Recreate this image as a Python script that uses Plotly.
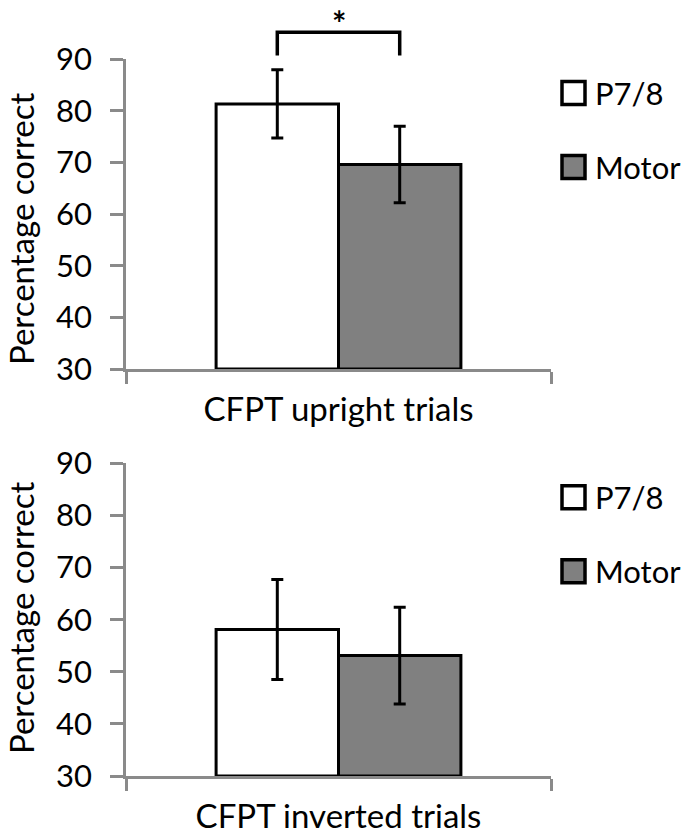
import plotly.graph_objects as go
from plotly.subplots import make_subplots

# ---- data ----
groups = ["P7/8", "Motor"]
panels = ["CFPT upright trials", "CFPT inverted trials"]
upright_means = [81.3, 69.6]
upright_err = [6.6, 7.4]
inverted_means = [58.1, 53.1]
inverted_err = [9.6, 9.3]
y_ticks = [30, 40, 50, 60, 70, 80, 90]
y_range = [30, 90]
sig_label = "*"

# ---- styles ----
FONT = "Lato"
fills = ["#ffffff", "#808080"]
AXIS = "#8a8a8a"
W = 690
H = 834
BAR_W = 0.288
offsets = [-BAR_W, 0.0]

fig = make_subplots(rows=2, cols=1)

x_dom = [126 / W, 551 / W]
y_doms = [[1 - 369 / H, 1 - 59 / H], [1 - 776 / H, 1 - 463.3 / H]]


def to_paper(v, dom):
    return dom[0] + (v - y_range[0]) / (y_range[1] - y_range[0]) * (dom[1] - dom[0])


data = [(upright_means, upright_err), (inverted_means, inverted_err)]
for r, (means, errs) in enumerate(data, start=1):
    for i, g in enumerate(groups):
        fig.add_trace(go.Bar(
            x=[0], y=[means[i] - y_range[0]], base=y_range[0],
            width=BAR_W, offset=offsets[i],
            marker=dict(color=fills[i], line=dict(color="black", width=3)),
            error_y=dict(type="data", array=[errs[i]], color="black", thickness=3, width=6),
            name=g, showlegend=False, hoverinfo="skip",
        ), row=r, col=1)

# significance bracket between the two upright bars (above the plot range)
centers = [o + BAR_W / 2 for o in offsets]
top_ext = max(m + e for m, e in zip(upright_means, upright_err))
b_low = to_paper(top_ext + 2.8, y_doms[0])
b_high = to_paper(top_ext + 7.3, y_doms[0])
fig.add_shape(type="path", xref="x", yref="paper",
              path=f"M {centers[0]},{b_low} L {centers[0]},{b_high} L {centers[1]},{b_high} L {centers[1]},{b_low}",
              line=dict(color="black", width=3.5))
fig.add_annotation(x=0, y=1, xref="x", yref="paper",
                   text="<b>" + sig_label + "</b>", showarrow=False, yanchor="top",
                   font=dict(family=FONT, size=34, color="black"))

for r in (1, 2):
    xa = "xaxis" if r == 1 else "xaxis2"
    ya = "yaxis" if r == 1 else "yaxis2"
    fig.update_layout(**{
        xa: dict(domain=x_dom, range=[-0.5, 0.5], showgrid=False, zeroline=False,
                 automargin=False,
                 showline=True, linecolor=AXIS, linewidth=2.5,
                 tickvals=[0], ticktext=[panels[r - 1]], ticks="",
                 tickfont=dict(family=FONT, size=33, color="black"),
                 ticklabelstandoff=10,
                 minor=dict(tickvals=[-0.5, 0.5], ticks="outside", ticklen=12,
                            tickwidth=2.5, tickcolor=AXIS, showgrid=False)),
        ya: dict(domain=y_doms[r - 1], range=y_range, showgrid=False, zeroline=False,
                 automargin=False,
                 showline=True, linecolor=AXIS, linewidth=2.5,
                 tickvals=y_ticks, ticks="outside", ticklen=13, tickwidth=2.5,
                 tickcolor=AXIS, ticklabelstandoff=12,
                 tickfont=dict(family=FONT, size=31, color="black")),
    })

# y-axis titles
title_centers = [229, 618]
for yc in title_centers:
    fig.add_annotation(x=21 / W, y=1 - yc / H, xref="paper", yref="paper",
                       text="Percentage correct", textangle=-90, showarrow=False,
                       xanchor="center", yanchor="middle",
                       font=dict(family=FONT, size=33, color="black"))

# legends (one per panel)
leg_offsets = [34, 108]
panel_tops = [59, 463.3]
for pt in panel_tops:
    for i, g in enumerate(groups):
        cy = pt + leg_offsets[i]
        fig.add_shape(type="rect", xref="paper", yref="paper",
                      x0=562 / W, x1=585 / W, y0=1 - (cy + 11.5) / H, y1=1 - (cy - 11.5) / H,
                      fillcolor=fills[i], line=dict(color="black", width=3.5))
        fig.add_annotation(x=593 / W, y=1 - cy / H, xref="paper", yref="paper",
                           text=g, showarrow=False, xanchor="left", yanchor="middle",
                           font=dict(family=FONT, size=31, color="black"))

fig.update_layout(
    template="none",
    width=W, height=H, margin=dict(l=0, r=0, t=0, b=0, autoexpand=False),
    plot_bgcolor="white", paper_bgcolor="white", barmode="overlay",
    showlegend=False,
)

fig.write_html("out.html", config={"displayModeBar": False},
               post_script="document.body.style.margin='0';")
